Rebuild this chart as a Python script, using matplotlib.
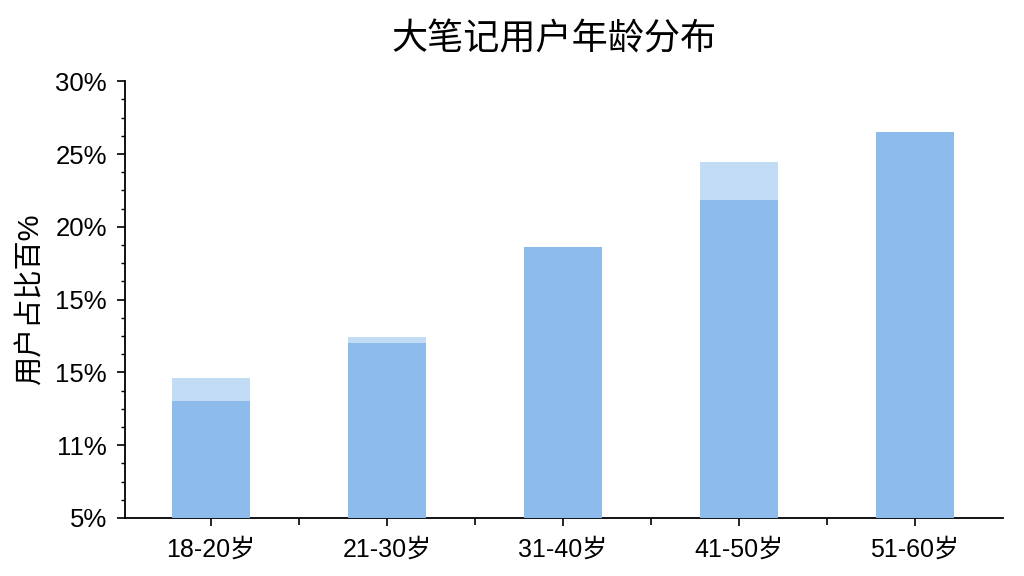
import matplotlib.pyplot as plt
import numpy as np
from matplotlib.ticker import AutoMinorLocator, FixedLocator

plt.rcParams['font.family'] = ['Liberation Sans', 'Noto Sans CJK SC', 'DejaVu Sans']

# 数据（按图上刻度位置读取，刻度文字保留原图写法）
age_groups = ["18-20岁", "21-30岁", "31-40岁", "41-50岁", "51-60岁"]
share_main = [11.7, 15.0, 20.5, 23.2, 27.1]
share_extra = [13.0, 15.35, 20.5, 25.4, 27.1]
ytick_labels = ["5%", "11%", "15%", "15%", "20%", "25%", "30%"]

dark_blue = "#8dbbec"
light_blue = "#c3dcf5"

fig = plt.figure(figsize=(10.24, 5.76), dpi=100)
ax = fig.add_axes([0.122, 0.1007, 0.8575, 0.7583])

x = np.arange(len(age_groups))
ax.bar(x, share_extra, width=0.44, color=light_blue, zorder=2)
ax.bar(x, share_main, width=0.44, color=dark_blue, zorder=3)

ax.set_xlim(-0.49, 4.5)
ax.set_ylim(5, 30)
yticks = np.linspace(5, 30, len(ytick_labels))
ax.set_yticks(yticks)
ax.set_yticklabels(ytick_labels, fontsize=18.5)
ax.yaxis.set_minor_locator(AutoMinorLocator(4))
ax.set_xticks(x)
ax.set_xticklabels(age_groups, fontsize=18)
ax.xaxis.set_minor_locator(FixedLocator(x[:-1] + 0.5))

ax.tick_params(axis='y', which='major', length=6, width=1.2, pad=7)
ax.tick_params(axis='y', which='minor', length=3, width=1.0)
ax.tick_params(axis='x', which='major', length=6, width=1.2, pad=8)
ax.tick_params(axis='x', which='minor', length=5, width=1.2)

for s in ['top', 'right']:
    ax.spines[s].set_visible(False)
for s in ['left', 'bottom']:
    ax.spines[s].set_linewidth(1.3)

ax.set_ylabel("用户占比百%", fontsize=21, labelpad=8)
fig.text(0.541, 0.93, "大笔记用户年龄分布", fontsize=26, ha='center', va='center')

fig.savefig('out.png', dpi=100)
